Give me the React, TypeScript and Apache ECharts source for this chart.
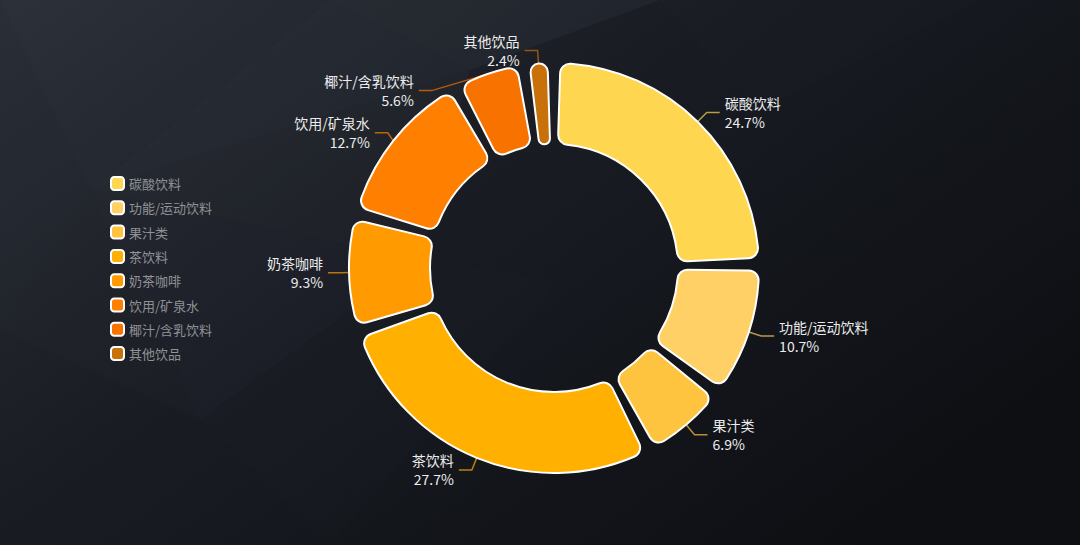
import React, { useEffect, useRef } from "react";
import * as echarts from "echarts";

const categories = ["碳酸饮料", "功能/运动饮料", "果汁类", "茶饮料", "奶茶咖啡", "饮用/矿泉水", "椰汁/含乳饮料", "其他饮品"];
const shares = [24.7, 10.7, 6.9, 27.7, 9.3, 12.7, 5.6, 2.4];
const colors = ["#FFD64F", "#FFD066", "#FFC43F", "#FFB000", "#FF9B00", "#FF7F00", "#F87200", "#C8700A"];

const FONT = '"Noto Sans CJK SC", "Microsoft YaHei", sans-serif';

// decorative low-poly facets for the background
const facets: { pts: number[][]; a: number }[] = [
  { pts: [[0, 0], [330, 0], [90, 190]], a: 0.035 },
  { pts: [[330, 0], [660, 0], [470, 70]], a: 0.05 },
  { pts: [[90, 190], [330, 0], [470, 70]], a: 0.045 },
  { pts: [[90, 190], [470, 70], [420, 260]], a: 0.03 },
  { pts: [[0, 0], [90, 190], [0, 330]], a: 0.02 },
  { pts: [[0, 330], [90, 190], [200, 420]], a: 0.015 },
  { pts: [[90, 190], [420, 260], [200, 420]], a: 0.025 },
  { pts: [[420, 260], [560, 280], [330, 545]], a: 0.012 },
  { pts: [[660, 0], [980, 0], [760, 110]], a: 0.012 },
  { pts: [[200, 420], [420, 260], [330, 545]], a: 0.01 },
];

export default function App() {
  const ref = useRef<HTMLDivElement>(null);
  useEffect(() => {
    if (!ref.current) return;
    const chart = echarts.init(ref.current, null, { renderer: "svg" });
    const data = categories.map((name, i) => ({
      name,
      value: shares[i],
      itemStyle: { color: colors[i] },
    }));
    chart.setOption({
      animation: false,
      backgroundColor: {
        type: "linear",
        x: 0,
        y: 0,
        x2: 1,
        y2: 0.7,
        colorStops: [
          { offset: 0, color: "#282c34" },
          { offset: 0.45, color: "#191c23" },
          { offset: 1, color: "#0d0f13" },
        ],
      },
      graphic: facets.map((f) => ({
        type: "polygon",
        silent: true,
        z: -10,
        shape: { points: f.pts },
        style: { fill: `rgba(160,180,200,${f.a})` },
      })),
      legend: {
        orient: "vertical",
        left: 110,
        top: 176,
        padding: 0,
        itemWidth: 13,
        itemHeight: 13,
        itemGap: 9.3,
        icon: "roundRect",
        textStyle: { color: "#8f9296", fontSize: 13, fontFamily: FONT },
        data: categories,
      },
      series: [
        {
          type: "pie",
          center: [554, 268],
          radius: [124, 205],
          startAngle: 90,
          clockwise: true,
          padAngle: 3.6,
          avoidLabelOverlap: true,
          itemStyle: { borderRadius: 10, borderColor: "#ffffff", borderWidth: 2 },
          label: {
            show: true,
            position: "outside",
            color: "#ececec",
            fontSize: 14,
            lineHeight: 19,
            fontFamily: FONT,
            formatter: (p: any) => `${p.name}\n${p.value}%`,
          },
          labelLine: {
            show: true,
            length: 13,
            length2: 13,
            lineStyle: { width: 1.5, opacity: 0.7 },
          },
          data,
        },
      ],
    });
    return () => chart.dispose();
  }, []);
  return (
    <div
      ref={ref}
      style={{ position: "fixed", left: 0, top: 0, width: 1080, height: 545 }}
    />
  );
}
